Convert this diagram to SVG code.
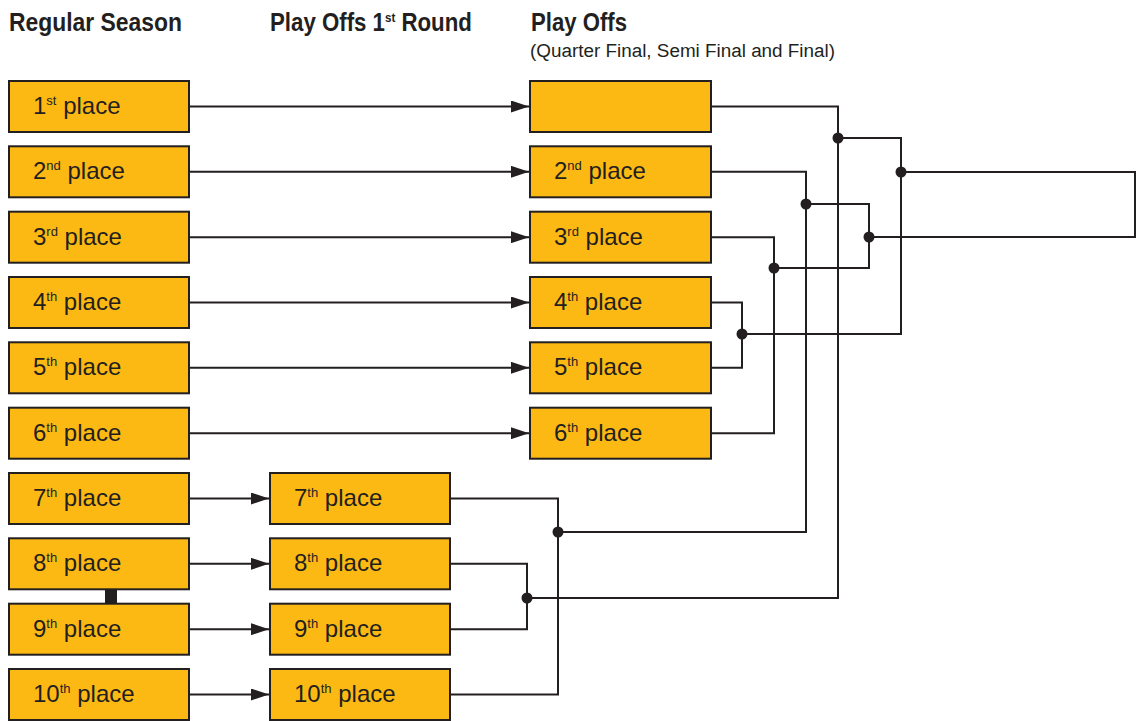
<svg xmlns="http://www.w3.org/2000/svg" width="1139" height="721" viewBox="0 0 1139 721">
<style>
.box{fill:#FDB913;stroke:#231F20;stroke-width:2}
.lbl{font-family:"Liberation Sans",Arial,sans-serif;font-size:24px;fill:#231F20}
.sup{font-size:13px}
.title{font-family:"Liberation Sans",Arial,sans-serif;font-size:25px;font-weight:bold;fill:#231F20}
.sub{font-family:"Liberation Sans",Arial,sans-serif;font-size:18px;fill:#231F20}
.ln{fill:none;stroke:#231F20;stroke-width:2}
.dot{fill:#231F20}
</style>
<defs>
<marker id="arr" markerUnits="userSpaceOnUse" markerWidth="18" markerHeight="12" viewBox="0 0 18 12" refX="18" refY="6" orient="auto">
<path d="M0,0 L18,6 L0,12 z" fill="#231F20"/>
</marker>
</defs>
<rect width="1139" height="721" fill="#FFFFFF"/>
<g id="titles">
<text class="title" x="9" y="31" textLength="173" lengthAdjust="spacingAndGlyphs">Regular Season</text>
<text class="title" transform="translate(270,31) scale(0.89,1)">Play Offs 1<tspan class="sup" font-size="14" dy="-9">st</tspan><tspan dy="9"> Round</tspan></text>
<text class="title" x="531" y="31" textLength="96" lengthAdjust="spacingAndGlyphs">Play Offs</text>
<text class="sub" x="530" y="57" textLength="305" lengthAdjust="spacingAndGlyphs">(Quarter Final, Semi Final and Final)</text>
</g>
<g id="connectors">
<path class="ln" d="M190,106.5H529" marker-end="url(#arr)"/>
<path class="ln" d="M190,171.8H529" marker-end="url(#arr)"/>
<path class="ln" d="M190,237.2H529" marker-end="url(#arr)"/>
<path class="ln" d="M190,302.5H529" marker-end="url(#arr)"/>
<path class="ln" d="M190,367.8H529" marker-end="url(#arr)"/>
<path class="ln" d="M190,433.2H529" marker-end="url(#arr)"/>
<path class="ln" d="M190,498.5H269" marker-end="url(#arr)"/>
<path class="ln" d="M190,563.8H269" marker-end="url(#arr)"/>
<path class="ln" d="M190,629.2H269" marker-end="url(#arr)"/>
<path class="ln" d="M190,694.5H269" marker-end="url(#arr)"/>
<path class="ln" d="M451,498.5H558V694.5H451"/>
<path class="ln" d="M558,532H806V171.8H712"/>
<path class="ln" d="M451,563.8H527V629.2H451"/>
<path class="ln" d="M527,598H838V106.5H712"/>
<path class="ln" d="M712,302.5H742V367.8H712"/>
<path class="ln" d="M742,334H901V138H838"/>
<path class="ln" d="M712,237.2H774V433.2H712"/>
<path class="ln" d="M774,268H869V204H806"/>
<path class="ln" d="M901,172H1135V237H869"/>
<circle class="dot" cx="558" cy="532" r="5.5"/>
<circle class="dot" cx="527" cy="598" r="5.5"/>
<circle class="dot" cx="742" cy="334" r="5.5"/>
<circle class="dot" cx="774" cy="268" r="5.5"/>
<circle class="dot" cx="806" cy="204" r="5.5"/>
<circle class="dot" cx="838" cy="138" r="5.5"/>
<circle class="dot" cx="901" cy="172" r="5.5"/>
<circle class="dot" cx="869" cy="237" r="5.5"/>
<rect x="105" y="589" width="12" height="14" fill="#231F20"/>
</g>
<g id="rs1"><rect class="box" x="9" y="81" width="180" height="51"/><text class="lbl" x="33" y="114">1<tspan class="sup" dy="-9">st</tspan><tspan dy="9"> place</tspan></text></g>
<g id="rs2"><rect class="box" x="9" y="146.3" width="180" height="51"/><text class="lbl" x="33" y="179.3">2<tspan class="sup" dy="-9">nd</tspan><tspan dy="9"> place</tspan></text></g>
<g id="rs3"><rect class="box" x="9" y="211.7" width="180" height="51"/><text class="lbl" x="33" y="244.7">3<tspan class="sup" dy="-9">rd</tspan><tspan dy="9"> place</tspan></text></g>
<g id="rs4"><rect class="box" x="9" y="277" width="180" height="51"/><text class="lbl" x="33" y="310">4<tspan class="sup" dy="-9">th</tspan><tspan dy="9"> place</tspan></text></g>
<g id="rs5"><rect class="box" x="9" y="342.3" width="180" height="51"/><text class="lbl" x="33" y="375.3">5<tspan class="sup" dy="-9">th</tspan><tspan dy="9"> place</tspan></text></g>
<g id="rs6"><rect class="box" x="9" y="407.7" width="180" height="51"/><text class="lbl" x="33" y="440.7">6<tspan class="sup" dy="-9">th</tspan><tspan dy="9"> place</tspan></text></g>
<g id="rs7"><rect class="box" x="9" y="473" width="180" height="51"/><text class="lbl" x="33" y="506">7<tspan class="sup" dy="-9">th</tspan><tspan dy="9"> place</tspan></text></g>
<g id="rs8"><rect class="box" x="9" y="538.3" width="180" height="51"/><text class="lbl" x="33" y="571.3">8<tspan class="sup" dy="-9">th</tspan><tspan dy="9"> place</tspan></text></g>
<g id="rs9"><rect class="box" x="9" y="603.7" width="180" height="51"/><text class="lbl" x="33" y="636.7">9<tspan class="sup" dy="-9">th</tspan><tspan dy="9"> place</tspan></text></g>
<g id="rs10"><rect class="box" x="9" y="669" width="180" height="51"/><text class="lbl" x="33" y="702">10<tspan class="sup" dy="-9">th</tspan><tspan dy="9"> place</tspan></text></g>
<g id="r1_7"><rect class="box" x="270" y="473" width="180" height="51"/><text class="lbl" x="294" y="506">7<tspan class="sup" dy="-9">th</tspan><tspan dy="9"> place</tspan></text></g>
<g id="r1_8"><rect class="box" x="270" y="538.3" width="180" height="51"/><text class="lbl" x="294" y="571.3">8<tspan class="sup" dy="-9">th</tspan><tspan dy="9"> place</tspan></text></g>
<g id="r1_9"><rect class="box" x="270" y="603.7" width="180" height="51"/><text class="lbl" x="294" y="636.7">9<tspan class="sup" dy="-9">th</tspan><tspan dy="9"> place</tspan></text></g>
<g id="r1_10"><rect class="box" x="270" y="669" width="180" height="51"/><text class="lbl" x="294" y="702">10<tspan class="sup" dy="-9">th</tspan><tspan dy="9"> place</tspan></text></g>
<g id="po1"><rect class="box" x="530" y="81" width="181" height="51"/></g>
<g id="po2"><rect class="box" x="530" y="146.3" width="181" height="51"/><text class="lbl" x="554" y="179.3">2<tspan class="sup" dy="-9">nd</tspan><tspan dy="9"> place</tspan></text></g>
<g id="po3"><rect class="box" x="530" y="211.7" width="181" height="51"/><text class="lbl" x="554" y="244.7">3<tspan class="sup" dy="-9">rd</tspan><tspan dy="9"> place</tspan></text></g>
<g id="po4"><rect class="box" x="530" y="277" width="181" height="51"/><text class="lbl" x="554" y="310">4<tspan class="sup" dy="-9">th</tspan><tspan dy="9"> place</tspan></text></g>
<g id="po5"><rect class="box" x="530" y="342.3" width="181" height="51"/><text class="lbl" x="554" y="375.3">5<tspan class="sup" dy="-9">th</tspan><tspan dy="9"> place</tspan></text></g>
<g id="po6"><rect class="box" x="530" y="407.7" width="181" height="51"/><text class="lbl" x="554" y="440.7">6<tspan class="sup" dy="-9">th</tspan><tspan dy="9"> place</tspan></text></g>
</svg>
